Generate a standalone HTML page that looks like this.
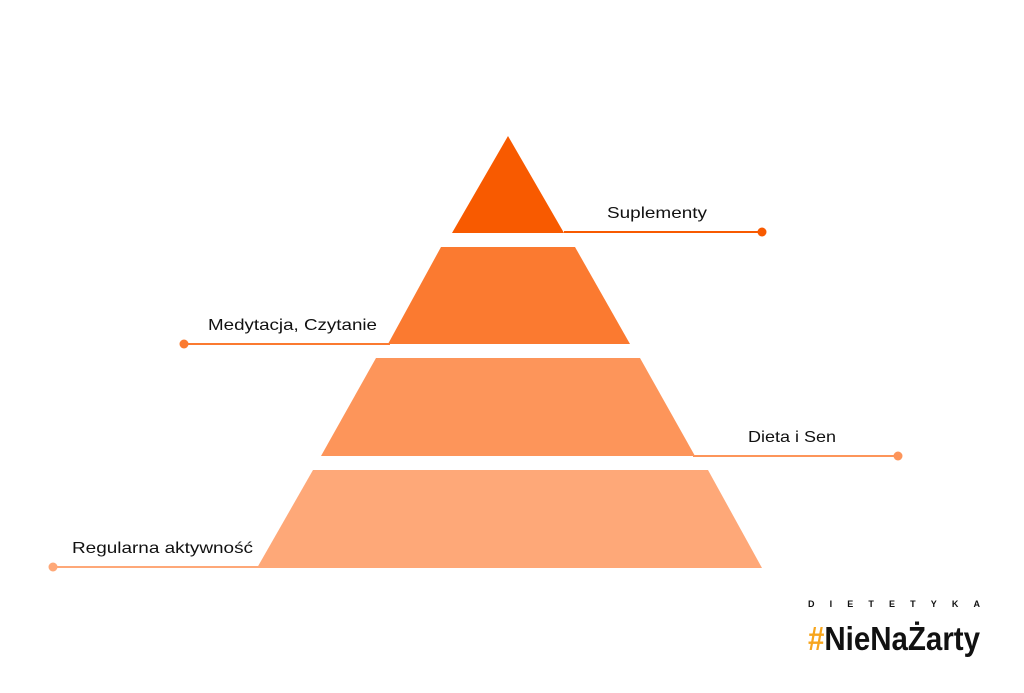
<!DOCTYPE html>
<html><head><meta charset="utf-8"><style>
body{margin:0;background:#fff;width:1024px;height:688px;overflow:hidden}
</style></head><body>
<svg width="1024" height="688" xmlns="http://www.w3.org/2000/svg" style="font-family:'Liberation Sans',sans-serif">
<polygon points="508,136 564,233 452,233" fill="#f85a00"/>
<polygon points="441,247 575,247 630,344 388,344" fill="#fb7a30"/>
<polygon points="376,358 640,358 695,456 321,456" fill="#fd955a"/>
<polygon points="313,470 708,470 762,568 257,568" fill="#fea878"/>
<line x1="564" y1="232" x2="762" y2="232" stroke="#f85a00" stroke-width="2"/>
<circle cx="762" cy="232" r="4.5" fill="#f85a00"/>
<line x1="184" y1="344" x2="390" y2="344" stroke="#fb7a30" stroke-width="2"/>
<circle cx="184" cy="344" r="4.5" fill="#fb7a30"/>
<line x1="693" y1="456" x2="898" y2="456" stroke="#fd955a" stroke-width="2"/>
<circle cx="898" cy="456" r="4.5" fill="#fd955a"/>
<line x1="53" y1="567" x2="259" y2="567" stroke="#fea878" stroke-width="2"/>
<circle cx="53" cy="567" r="4.5" fill="#fea878"/>
<g font-size="16" fill="#111" lengthAdjust="spacingAndGlyphs">
<text x="607" y="218" textLength="100" lengthAdjust="spacingAndGlyphs">Suplementy</text>
<text x="208" y="330" textLength="169" lengthAdjust="spacingAndGlyphs">Medytacja, Czytanie</text>
<text x="748" y="442" textLength="88" lengthAdjust="spacingAndGlyphs">Dieta i Sen</text>
<text x="72" y="553" textLength="181" lengthAdjust="spacingAndGlyphs">Regularna aktywność</text>
</g>
<text x="808" y="607" font-size="9" font-weight="bold" fill="#111" textLength="172" lengthAdjust="spacing">DIETETYKA</text>
<text x="808" y="650" font-size="33" font-weight="bold" fill="#111" font-family="'Liberation Sans Narrow','Liberation Sans',sans-serif" textLength="172" lengthAdjust="spacingAndGlyphs"><tspan fill="#f7a51c">#</tspan>NieNaŻarty</text>
</svg>
</body></html>
